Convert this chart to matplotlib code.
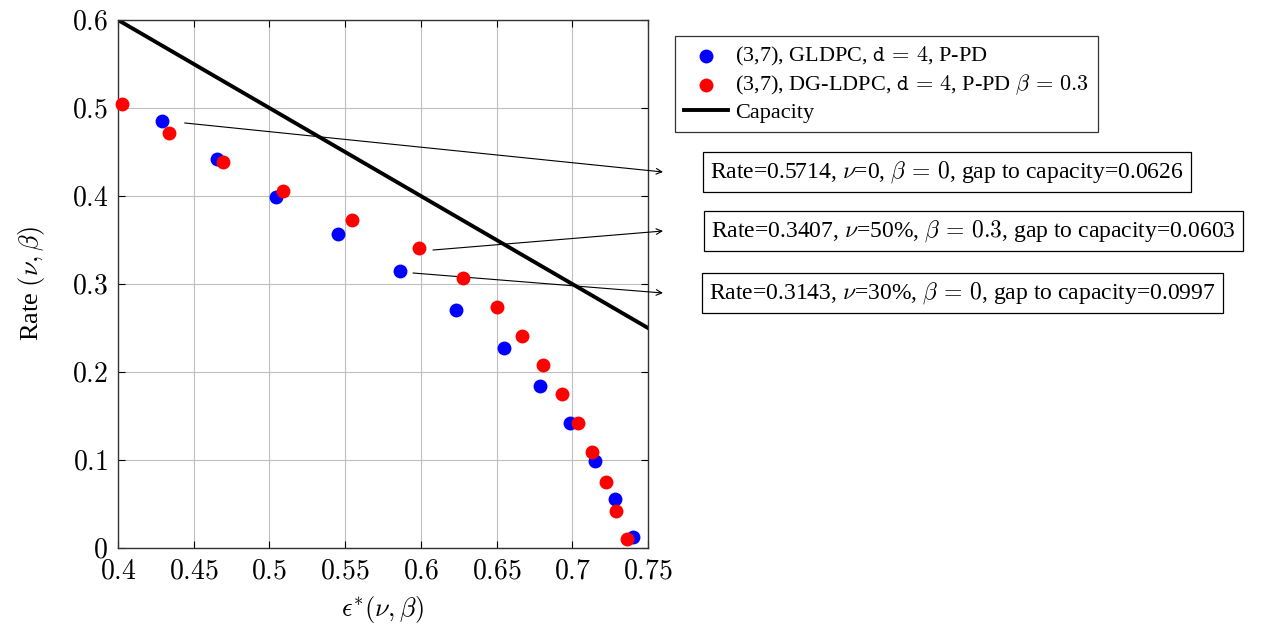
import matplotlib
matplotlib.use("Agg")
import matplotlib.pyplot as plt

plt.rcParams["font.family"] = ["Liberation Serif", "DejaVu Serif"]
plt.rcParams["mathtext.fontset"] = "cm"

# data
gldpc_eps = [0.4293, 0.4652, 0.5041, 0.5451, 0.5862, 0.6232, 0.6551,
             0.6789, 0.6985, 0.7150, 0.7280, 0.7399]
gldpc_rate = [0.4857, 0.4420, 0.3990, 0.3565, 0.3143, 0.2705, 0.2276,
              0.1845, 0.1417, 0.0989, 0.0560, 0.0129]

dgldpc_eps = [0.4024, 0.4335, 0.4693, 0.5092, 0.5543, 0.5990, 0.6280,
              0.6501, 0.6670, 0.6809, 0.6930, 0.7040, 0.7131, 0.7221,
              0.7289, 0.7360]
dgldpc_rate = [0.5050, 0.4720, 0.4390, 0.4060, 0.3727, 0.3407, 0.3068,
               0.2735, 0.2409, 0.2080, 0.1750, 0.1417, 0.1087, 0.0754,
               0.0424, 0.0098]

cap_eps = [0.4, 0.75]
cap_rate = [0.6, 0.25]

x_ticks = [0.4, 0.45, 0.5, 0.55, 0.6, 0.65, 0.7, 0.75]
y_ticks = [0, 0.1, 0.2, 0.3, 0.4, 0.5, 0.6]

notes = [
    r"Rate=0.5714, $\nu$=0, $\beta\,=\,0$, gap to capacity=0.0626",
    r"Rate=0.3407, $\nu$=50%, $\beta\,=\,0.3$, gap to capacity=0.0603",
    r"Rate=0.3143, $\nu$=30%, $\beta\,=\,0$, gap to capacity=0.0997",
]
note_from = [(0.444, 0.483), (0.608, 0.3386), (0.5948, 0.3125)]

W, H = 1265, 626
fig = plt.figure(figsize=(W / 100, H / 100), dpi=100)
ax = fig.add_axes([118 / W, 1 - 548 / H, 530 / W, 528 / H])

ax.scatter(gldpc_eps, gldpc_rate, s=100, color="#0000ff", zorder=3,
           clip_on=False, linewidths=0,
           label=r"(3,7), GLDPC, $\mathtt{d}\,=\,4$, P-PD")
ax.scatter(dgldpc_eps, dgldpc_rate, s=100, color="#ff0000", zorder=4,
           clip_on=False, linewidths=0,
           label=r"(3,7), DG-LDPC, $\mathtt{d}\,=\,4$, P-PD $\beta\,=\,0.3$")
ax.plot(cap_eps, cap_rate, color="black", lw=2.8, zorder=2, label="Capacity")

ax.set_xlim(0.4, 0.75)
ax.set_ylim(0, 0.6)
ax.set_xticks(x_ticks)
ax.set_yticks(y_ticks)
ax.set_xticklabels(["$%g$" % v for v in x_ticks])
ax.set_yticklabels(["$%g$" % v for v in y_ticks])
ax.tick_params(direction="in", top=True, right=True, labelsize=20, length=5)
ax.tick_params(axis="x", pad=8)
ax.tick_params(axis="y", pad=7)
ax.grid(True, color="#bfbfbf", lw=0.8)
ax.set_axisbelow(True)
for s in ax.spines.values():
    s.set_linewidth(1.0)
    s.set_color("#333333")

ax.set_xlabel(r"$\epsilon^{*}(\nu,\beta)$", fontsize=19, labelpad=7)
ax.set_ylabel(r"Rate $(\nu,\beta)$", fontsize=19, labelpad=18)

leg = fig.legend(loc="upper left", bbox_to_anchor=(675 / W, 1 - 36 / H),
                 borderaxespad=0, fontsize=16, frameon=True, fancybox=False,
                 edgecolor="black", scatterpoints=1, handlelength=2.0,
                 handletextpad=0.3, borderpad=0.4, labelspacing=0.22)
leg.get_frame().set_linewidth(0.9)

ends_y = [172, 231, 293]
box_x = [710, 711, 709]
for txt, start, ey, bx in zip(notes, note_from, ends_y, box_x):
    ax.annotate("", xy=(663 / W, 1 - ey / H), xycoords="figure fraction",
                xytext=start, textcoords="data",
                arrowprops=dict(arrowstyle="->", color="black", lw=0.8,
                                shrinkA=0, shrinkB=0),
                annotation_clip=False)
    fig.text(bx / W, 1 - ey / H, txt, fontsize=17, va="center", ha="left",
             bbox=dict(boxstyle="square,pad=0.3", fc="white", ec="black",
                       lw=0.9))

fig.savefig("out.png", dpi=100)
